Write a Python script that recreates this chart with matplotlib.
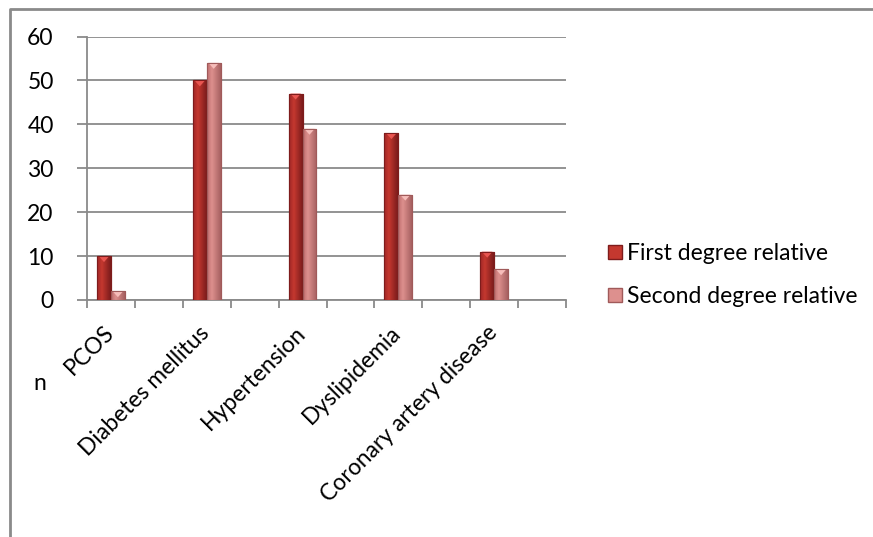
#!/usr/bin/env python3
"""Family history of metabolic disease: first vs second degree relatives."""

import matplotlib

matplotlib.use("Agg")
import matplotlib.pyplot as plt
import numpy as np
from matplotlib.colors import to_rgb
from matplotlib.lines import Line2D
from matplotlib.patches import Polygon, Rectangle
from matplotlib.transforms import ScaledTranslation

CATEGORIES = ["PCOS", "Diabetes mellitus", "Hypertension", "Dyslipidemia", "Coronary artery disease"]
FIRST_DEGREE = [10, 50, 47, 38, 11]
SECOND_DEGREE = [2, 54, 39, 24, 7]
SERIES_NAMES = ["First degree relative", "Second degree relative"]
Y_TICKS = [0, 10, 20, 30, 40, 50, 60]

# Excel-style category axis: every labelled category is followed by an empty slot
N_SLOTS = 2 * len(CATEGORIES)
BAR_W = 0.29

STYLE = {
    "first": dict(edge="#7E1C1C", left="#A02727", peak="#C4382F", right="#7A1B1B", tip="#E95651"),
    "second": dict(edge="#A05A5A", left="#BE6E6E", peak="#DD908E", right="#A66060", tip="#F6BDBA"),
}
GRID = "#8A8A8A"
FONT = ["Lato", "DejaVu Sans"]
FS = 16.5


def bar_gradient(style, n=64):
    x = np.linspace(0, 1, n)
    left, peak, right = (np.array(to_rgb(style[k])) for k in ("left", "peak", "right"))
    t1 = np.clip(x / 0.35, 0, 1)[:, None]
    t2 = np.clip((x - 0.35) / 0.65, 0, 1)[:, None]
    rgb = np.where(x[:, None] <= 0.35, left + (peak - left) * t1, peak + (right - peak) * t2)
    return rgb[None, :, :]


def draw_series(ax, centers, values, style, tip_h):
    bars = ax.bar(centers, values, width=BAR_W, color=style["peak"], edgecolor=style["edge"], linewidth=0.8, zorder=3)
    grad = bar_gradient(style)
    for bar, value in zip(bars, values):
        x0 = bar.get_x()
        w = bar.get_width()
        im = ax.imshow(grad, extent=(x0, x0 + w, 0, value), aspect="auto", interpolation="bilinear", zorder=3.1)
        im.set_clip_path(bar)
        h = min(tip_h, value * 0.8)
        ax.add_patch(Polygon(
            [(x0 + 0.12 * w, value), (x0 + 0.88 * w, value), (x0 + 0.5 * w, value - h)],
            closed=True, facecolor=style["tip"], edgecolor="none", zorder=3.2,
        ))
        ax.add_patch(Rectangle((x0, 0), w, value, fill=False, edgecolor=style["edge"], linewidth=0.8, zorder=3.3))
    return bars


def main():
    plt.rcParams["font.family"] = FONT
    fig = plt.figure(figsize=(8.73, 5.37), dpi=100, facecolor="white")
    W, H = 873, 537
    ax = fig.add_axes([87 / W, 1 - 300 / H, (566 - 87) / W, (300 - 36.5) / H])

    slots = np.arange(0, N_SLOTS, 2) + 0.5
    tip_h = 6 / ((300 - 36.5) / 60)
    draw_series(ax, slots - BAR_W / 2, FIRST_DEGREE, STYLE["first"], tip_h)
    draw_series(ax, slots + BAR_W / 2, SECOND_DEGREE, STYLE["second"], tip_h)

    ax.set_xlim(0, N_SLOTS)
    ax.set_ylim(0, 60)
    ax.set_yticks(Y_TICKS)
    ax.set_yticklabels([str(v) for v in Y_TICKS], fontsize=FS, color="black")
    ax.set_xticks(np.arange(0, N_SLOTS + 1))
    ax.set_xticklabels([])
    ax.tick_params(axis="y", length=7, width=1.3, color=GRID, pad=17)
    ax.tick_params(axis="x", length=6, width=1.3, color=GRID, direction="out")
    ax.grid(axis="y", color=GRID, linewidth=1.3, zorder=0)
    ax.set_axisbelow(True)
    for side in ("top", "right"):
        ax.spines[side].set_visible(False)
    for side in ("left", "bottom"):
        ax.spines[side].set_color(GRID)
        ax.spines[side].set_linewidth(1.3)

    shift = ScaledTranslation(4 / 100, -34 / 100, fig.dpi_scale_trans)
    for x, name in zip(slots, CATEGORIES):
        ax.text(x, 0, name, transform=ax.get_xaxis_transform() + shift, rotation=45,
                rotation_mode="anchor", ha="right", va="baseline", fontsize=FS)

    fig.text(40 / W, 1 - 384 / H, "n", ha="center", va="center", fontsize=FS)

    handles = [
        Line2D([0], [0], marker="s", linestyle="", markersize=9.5,
               markerfacecolor=STYLE[key]["peak"], markeredgecolor=STYLE[key]["edge"], label=label)
        for key, label in zip(("first", "second"), SERIES_NAMES)
    ]
    fig.legend(handles=handles, loc="center left", bbox_to_anchor=(597 / W, 1 - 275 / H),
               frameon=False, fontsize=FS, handlelength=0.8, handletextpad=0.1,
               labelspacing=0.95, borderaxespad=0)

    # chart-area frame (only left and top edges visible in the crop)
    fig.add_artist(Line2D([10 / W, 10 / W, 1.0], [0.0, 1 - 9 / H, 1 - 9 / H],
                          transform=fig.transFigure, color=GRID, linewidth=2))

    fig.savefig("out.png", dpi=100, facecolor="white")
    plt.close(fig)


if __name__ == "__main__":
    main()
